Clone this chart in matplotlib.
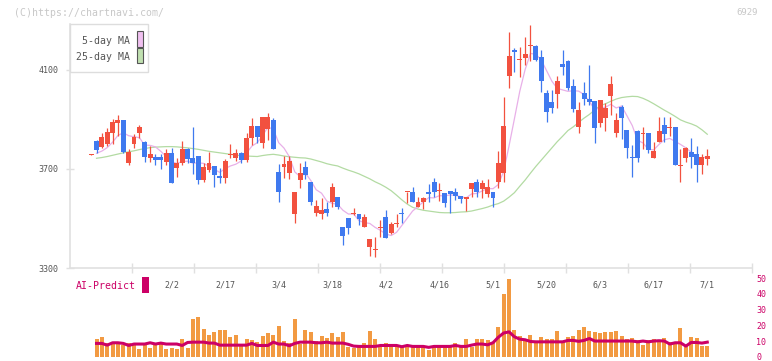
import numpy as np
import matplotlib
matplotlib.use('Agg')
import matplotlib.pyplot as plt
from matplotlib.patches import Rectangle

plt.rcParams['font.family'] = ['DejaVu Sans Mono']

# ---- data (daily candles, first one has no volume bar) ----
opens = [3757,
         3813, 3790, 3799, 3846, 3886, 3897, 3725, 3802, 3846, 3810,
         3745, 3749, 3749, 3728, 3766, 3705, 3725, 3782, 3743, 3752,
         3656, 3696, 3712, 3672, 3665, 3755, 3745, 3766, 3736, 3826,
         3873, 3806, 3862, 3897, 3688, 3709, 3685, 3520, 3656, 3708,
         3648, 3522, 3520, 3540, 3565, 3587, 3464, 3502, 3518, 3520,
         3464, 3384, 3373, 3460, 3507, 3440, 3478, 3523, 3605, 3608,
         3548, 3565, 3608, 3648, 3609, 3601, 3612, 3608, 3591, 3577,
         3618, 3649, 3618, 3597, 3605, 3649, 3683, 4077, 4180, 4138,
         4146, 4195, 4195, 4150, 4007, 3969, 4003, 4122, 4134, 4034,
         3869, 4006, 3984, 3973, 3886, 3906, 3993, 3846, 3949, 3857,
         3749, 3854, 3841, 3845, 3745, 3810, 3877, 3864, 3869, 3710,
         3745, 3768, 3760, 3717, 3741]
highs = [3761,
         3818, 3845, 3865, 3900, 3917, 3897, 3782, 3839, 3876, 3813,
         3792, 3759, 3762, 3780, 3786, 3745, 3813, 3786, 3869, 3752,
         3725, 3768, 3712, 3705, 3740, 3799, 3779, 3770, 3845, 3906,
         3873, 3909, 3926, 3904, 3719, 3752, 3752, 3608, 3725, 3732,
         3648, 3575, 3581, 3567, 3644, 3587, 3464, 3502, 3542, 3520,
         3520, 3417, 3427, 3495, 3535, 3484, 3518, 3542, 3608, 3625,
         3585, 3587, 3638, 3665, 3643, 3601, 3612, 3621, 3591, 3587,
         3643, 3659, 3656, 3659, 3605, 3772, 3991, 4251, 4190, 4194,
         4231, 4279, 4199, 4181, 4020, 4020, 4077, 4180, 4140, 4063,
         3969, 4051, 4121, 3973, 3977, 3966, 4074, 3926, 3956, 3857,
         3796, 3857, 3869, 3845, 3809, 3909, 3909, 3909, 3869, 3782,
         3788, 3823, 3792, 3762, 3779]
lows = [3756,
        3766, 3786, 3792, 3802, 3833, 3763, 3716, 3786, 3826, 3729,
        3729, 3716, 3701, 3716, 3645, 3669, 3716, 3725, 3681, 3641,
        3648, 3688, 3625, 3643, 3645, 3745, 3732, 3725, 3728, 3795,
        3806, 3786, 3815, 3779, 3565, 3665, 3661, 3480, 3621, 3661,
        3556, 3511, 3496, 3511, 3547, 3540, 3394, 3437, 3514, 3474,
        3464, 3350, 3343, 3424, 3420, 3437, 3464, 3480, 3561, 3565,
        3546, 3540, 3567, 3587, 3571, 3547, 3522, 3574, 3561, 3531,
        3585, 3587, 3582, 3585, 3547, 3622, 3649, 4027, 4092, 4073,
        4119, 4134, 4134, 4010, 3889, 3926, 3946, 4078, 4020, 3929,
        3846, 3956, 3960, 3806, 3869, 3853, 3916, 3830, 3822, 3745,
        3669, 3729, 3782, 3766, 3743, 3810, 3810, 3833, 3717, 3649,
        3729, 3703, 3649, 3679, 3717]
closes = [3760,
          3778, 3829, 3849, 3889, 3897, 3768, 3768, 3827, 3870, 3749,
          3762, 3737, 3737, 3766, 3645, 3725, 3779, 3739, 3725, 3656,
          3709, 3724, 3676, 3664, 3732, 3762, 3763, 3737, 3826, 3873,
          3830, 3909, 3909, 3779, 3605, 3719, 3732, 3605, 3683, 3676,
          3567, 3551, 3535, 3523, 3628, 3547, 3431, 3460, 3522, 3496,
          3507, 3417, 3377, 3464, 3420, 3478, 3482, 3516, 3608, 3565,
          3567, 3581, 3597, 3605, 3612, 3561, 3598, 3590, 3578, 3587,
          3643, 3605, 3643, 3628, 3583, 3725, 3873, 4154, 4173, 4142,
          4162, 4199, 4141, 4054, 3929, 3946, 4054, 4111, 4027, 3942,
          3937, 3983, 3972, 3866, 3977, 3946, 4042, 3897, 3906, 3784,
          3745, 3745, 3845, 3778, 3774, 3853, 3842, 3868, 3717, 3714,
          3786, 3749, 3717, 3748, 3752]

ma5 = [3763, 3772, 3786, 3808, 3835, 3846, 3834, 3830, 3826, 3796,
       3795, 3789, 3771, 3750, 3729, 3722, 3730, 3731, 3723, 3725,
       3722, 3711, 3698, 3686, 3701, 3712, 3719, 3732, 3764, 3792,
       3806, 3835, 3869, 3860, 3806, 3784, 3749, 3688, 3669, 3683,
       3653, 3616, 3602, 3570, 3561, 3557, 3533, 3518, 3518, 3491,
       3483, 3480, 3464, 3452, 3437, 3431, 3444, 3472, 3501, 3530,
       3548, 3567, 3584, 3583, 3592, 3591, 3595, 3593, 3588, 3583,
       3599, 3601, 3611, 3621, 3620, 3637, 3690, 3793, 3902, 4013,
       4101, 4166, 4163, 4140, 4097, 4054, 4025, 4019, 4013, 4016,
       4014, 4000, 3972, 3940, 3947, 3949, 3961, 3946, 3954, 3915,
       3875, 3815, 3805, 3779, 3777, 3799, 3818, 3823, 3811, 3799,
       3785, 3767, 3737, 3743, 3750]
ma25 = [3743, 3746, 3750, 3755, 3760, 3765, 3769, 3773, 3778, 3782,
        3786, 3788, 3789, 3790, 3790, 3789, 3787, 3785, 3782, 3779,
        3775, 3771, 3768, 3765, 3762, 3759, 3756, 3753, 3752, 3751,
        3750, 3754, 3757, 3759, 3756, 3752, 3749, 3747, 3745, 3744,
        3740, 3734, 3728, 3721, 3716, 3712, 3703, 3695, 3688, 3680,
        3670, 3660, 3648, 3638, 3626, 3612, 3594, 3575, 3558, 3545,
        3538, 3533, 3530, 3527, 3524, 3523, 3523, 3524, 3526, 3527,
        3530, 3535, 3540, 3546, 3554, 3560, 3570, 3586, 3604, 3630,
        3655, 3683, 3710, 3735, 3760, 3785, 3810, 3832, 3855, 3870,
        3888, 3905, 3920, 3938, 3955, 3963, 3973, 3982, 3988, 3991,
        3993, 3992, 3985, 3975, 3963, 3950, 3937, 3925, 3912, 3898,
        3889, 3882, 3873, 3858, 3840]

volume = [11.3, 12.6, 8.6, 9.0, 9.0, 7.5, 8.6, 7.5, 5.0, 7.5,
          5.7, 7.5, 9.0, 5.0, 5.7, 5.0, 11.3, 5.7, 23.9, 25.2,
          17.6, 13.8, 15.7, 17.0, 17.0, 12.6, 13.8, 7.5, 11.3, 10.7,
          9.4, 13.2, 15.1, 13.8, 19.5, 10.1, 8.8, 23.9, 8.2, 17.0,
          15.7, 10.1, 13.2, 11.9, 15.1, 12.6, 15.7, 6.3, 5.7, 7.5,
          8.8, 16.4, 11.3, 7.5, 8.8, 7.5, 7.5, 6.1, 6.1, 6.1,
          6.1, 6.1, 4.4, 6.1, 6.1, 6.1, 6.1, 8.8, 7.1, 11.3,
          6.1, 11.3, 11.3, 10.5, 8.8, 18.9, 39.6, 49.1, 17.0, 13.2,
          11.3, 13.8, 8.8, 12.6, 11.3, 11.3, 16.4, 10.1, 12.6, 13.2,
          17.0, 18.9, 16.4, 15.7, 15.1, 15.7, 15.7, 16.4, 13.2, 11.3,
          11.9, 10.7, 7.5, 10.7, 11.3, 10.1, 11.9, 9.4, 9.4, 18.2,
          7.5, 12.6, 11.9, 6.9, 6.9]
vol_ma = [8.6, 8.6, 7.5, 9.0, 9.0, 8.6, 7.3, 8.2, 8.2, 8.2,
          9.0, 8.2, 8.8, 8.2, 8.2, 8.2, 7.3, 9.2, 9.4, 9.4,
          9.4, 8.8, 8.8, 7.5, 7.5, 7.5, 7.5, 7.5, 7.5, 8.6,
          7.3, 7.3, 7.3, 9.4, 8.2, 8.2, 7.1, 8.6, 9.4, 9.4,
          9.4, 9.0, 9.0, 9.4, 8.8, 8.8, 8.8, 8.0, 6.9, 6.7,
          6.7, 6.7, 6.7, 7.3, 7.3, 7.3, 7.3, 6.5, 7.3, 6.7,
          6.7, 6.7, 6.1, 6.7, 6.7, 6.7, 6.7, 7.3, 6.7, 6.7,
          7.5, 8.2, 8.2, 7.7, 9.0, 12.5, 15.2, 15.9, 12.8, 11.3,
          10.9, 9.8, 9.6, 9.6, 9.6, 9.6, 9.6, 9.6, 10.5, 10.5,
          9.9, 10.5, 11.7, 10.1, 10.1, 10.1, 10.1, 10.1, 10.1, 10.1,
          10.1, 9.6, 10.1, 9.6, 10.1, 10.3, 10.1, 8.2, 9.0, 9.0,
          6.9, 9.2, 9.2, 8.8, 9.4]

date_labels = ['2/2', '2/17', '3/4', '3/18', '4/2', '4/16',
               '5/1', '5/20', '6/3', '6/17', '7/1']
label_idx = [14, 24, 34, 44, 54, 64, 74, 84, 94, 104, 114]

# ---- figure ----
W, H = 772, 361
fig = plt.figure(figsize=(W/100, H/100), dpi=100)

def box(l, t, r, b):
    return [l/W, 1-b/H, (r-l)/W, (b-t)/H]

def fx(px):
    return px/W

def fy(py):
    return 1-py/H

ax = fig.add_axes(box(70, 24, 752, 268))
axv = fig.add_axes(box(70, 278, 752, 357))

RED = '#f2513f'
BLUE = '#3f79ef'
GRID = '#e0e0e0'
TXT = '#555555'
MAG = '#cc0066'

x = np.arange(-1, len(opens)-1)
o = np.array(opens)
c = np.array(closes)
cols = [RED if cc >= oo else BLUE for oo, cc in zip(o, c)]
body_lo = np.minimum(o, c)
body_h = np.maximum(np.abs(c-o), 4)

xm = np.arange(len(ma5))
ax.plot(xm, ma25, color='#b3dba3', lw=0.9, zorder=1)
ax.plot(xm, ma5, color='#e8b0e8', lw=0.9, zorder=1)
ax.vlines(x, lows, highs, colors=cols, lw=0.9, zorder=2)
ax.bar(x, body_h, bottom=body_lo, width=0.92, color=cols, lw=0, zorder=3)

x0, x1 = -4.95, 122.35
ax.set_xlim(x0, x1)
ax.set_ylim(3300, 4285)
for s in ['top', 'right']:
    ax.spines[s].set_visible(False)
for s in ['left', 'bottom']:
    ax.spines[s].set_color(GRID)
    ax.spines[s].set_linewidth(1.2)

ax.set_yticks([3300, 3700, 4100])
ax.tick_params(axis='y', direction='inout', length=6, width=1, color=GRID,
               labelcolor=TXT, labelsize=6, pad=5)
ax.set_xticks(label_idx)
ax.set_xticklabels(date_labels)
ax.set_xticks(np.linspace(x0, x1, 12)[1:], minor=True)
ax.tick_params(axis='x', which='major', length=0, labelcolor=TXT, labelsize=6, pad=9)
ax.tick_params(axis='x', which='minor', direction='inout', length=7, width=1, color=GRID)

# ---- volume panel ----
xv = np.arange(len(volume))
axv.bar(xv, volume, width=0.75, color='#f29a42', lw=0, zorder=1)
axv.plot(xv, vol_ma, color=MAG, lw=2.2, zorder=2)
axv.set_xlim(x0, x1)
axv.set_ylim(0, 50)
axv.set_xticks([])
axv.yaxis.tick_right()
axv.set_yticks([0, 10, 20, 30, 40, 50])
axv.tick_params(axis='y', length=0, pad=3, labelcolor=MAG, labelsize=6)
for s in axv.spines.values():
    s.set_visible(False)
axv.patch.set_alpha(0)

# ---- texts and legend ----
fig.text(fx(14), fy(12.7), '(C)https://chartnavi.com/', color='#c8c8c8',
         fontsize=7.1, va='center', ha='left')
fig.text(fx(758), fy(12.7), '6929', color='#c8c8c8', fontsize=6.5,
         va='center', ha='right')
fig.text(fx(76), fy(286), 'AI-Predict', color=MAG, fontsize=7.1,
         va='center', ha='left')
fig.add_artist(Rectangle((fx(142), fy(293)), 7/W, 16/H, fc=MAG, ec='none'))

fig.add_artist(Rectangle((fx(70), fy(72)), 78/W, 48/H, fc='white',
                         ec='#dddddd', lw=1))
fig.add_artist(Rectangle((fx(136.5), fy(46.5)), 6/W, 15/H, fc='#f0c0f0',
                         ec='#555555', lw=0.8))
fig.add_artist(Rectangle((fx(136.5), fy(63)), 6/W, 15/H, fc='#c0e0b0',
                         ec='#555555', lw=0.8))
fig.text(fx(129.5), fy(40.7), '5-day MA', color=TXT, fontsize=7.1,
         va='center', ha='right')
fig.text(fx(129.5), fy(57.3), '25-day MA', color=TXT, fontsize=7.1,
         va='center', ha='right')

fig.savefig('out.png', dpi=100)
